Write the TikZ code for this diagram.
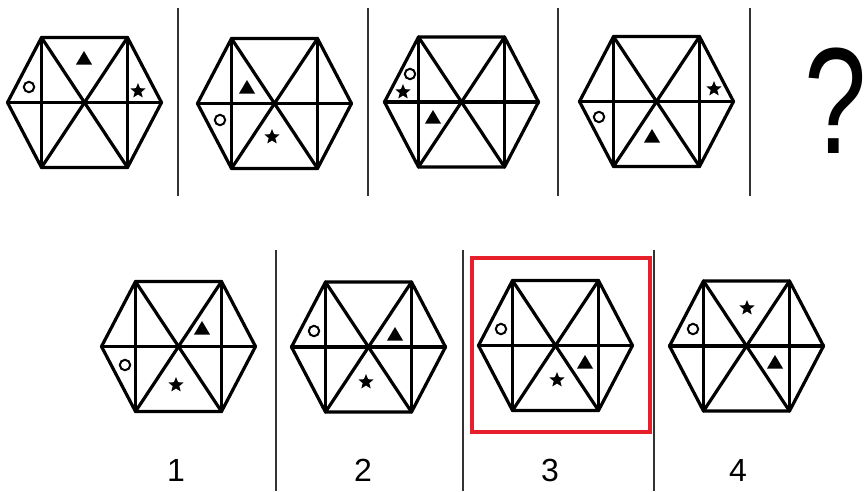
\documentclass[tikz,border=0pt]{standalone}
\usepackage{fontspec}
\setmainfont{Liberation Sans}
\usetikzlibrary{shapes.geometric}
\definecolor{boxred}{HTML}{E5202A}
\tikzset{
  hexline/.style={line width=3.2pt, line join=round, line cap=round},
  sep/.style={line width=1.8pt, black!80},
  starsym/.style={star, star points=5, star point ratio=2.3, fill=black, inner sep=0pt, minimum size=16pt},
  ringsym/.style={line width=2pt},
  lbl/.style={font=\fontsize{32}{32}\selectfont, inner sep=0pt},
  pics/hexfig/.style={code={
    \coordinate (-L) at (-77,0);
    \coordinate (-R) at (77,0);
    \coordinate (-TL) at (-43,-65);
    \coordinate (-TR) at (43,-65);
    \coordinate (-BL) at (-43,65);
    \coordinate (-BR) at (43,65);
    \draw[hexline] (-L) -- (-TL) -- (-TR) -- (-R) -- (-BR) -- (-BL) -- cycle;
    \draw[hexline] (-L) -- (-R);
    \draw[hexline] (-TL) -- (-BL);
    \draw[hexline] (-TR) -- (-BR);
    \draw[hexline] (-TL) -- (-BR);
    \draw[hexline] (-TR) -- (-BL);
  }}
}
\newcommand{\trisym}[2]{\fill[line join=round] (#1-8,#2+6.5) -- (#1,#2-7) -- (#1+8,#2+6.5) -- cycle;}
\newcommand{\ringat}[2]{\draw[ringsym] (#1,#2) circle (5.2);}
\newcommand{\starat}[2]{\node[starsym] at (#1,#2) {};}
\begin{document}
\begin{tikzpicture}[x=1pt,y=-1pt]
\useasboundingbox (0,0) rectangle (867,491);
% top row
\pic (h1) at (84.5,102.5) {hexfig};
\pic (h2) at (274.5,103.5) {hexfig};
\pic (h3) at (461.5,102) {hexfig};
\pic (h4) at (656.5,101.5) {hexfig};
\draw[sep] (178,8) -- (178,196);
\draw[sep] (368,8) -- (368,196);
\draw[sep] (558,8) -- (558,196);
\draw[sep] (750,8) -- (750,196);
\node[inner sep=0pt, xscale=0.8, yscale=1.08, font=\fontsize{140}{140}\selectfont] (q) at (836,101) {?};
% symbols top row
\ringat{29}{87} \trisym{84}{58} \starat{138}{91}
\trisym{247}{87} \ringat{220}{120} \starat{272}{137}
\ringat{410}{74} \starat{403}{92} \trisym{433}{117}
\starat{714}{89} \ringat{599}{117} \trisym{652}{136}
% bottom row
\pic (o1) at (178.5,346.5) {hexfig};
\pic (o2) at (368.5,347) {hexfig};
\pic (o3) at (555.5,345.5) {hexfig};
\pic (o4) at (746.5,346) {hexfig};
\draw[sep] (276,250) -- (276,491);
\draw[sep] (463,250) -- (463,491);
\draw[sep] (654,250) -- (654,491);
\draw[boxred, line width=3.6pt] (472,258) rectangle (650,432);
\trisym{202}{328} \ringat{125}{365} \starat{176}{385}
\ringat{314}{331} \trisym{395}{334} \starat{366}{382}
\ringat{501}{329} \trisym{585}{362} \starat{557}{380}
\starat{747}{308} \ringat{693}{329} \trisym{775}{362}
\node[lbl] (l1) at (176,470) {1};
\node[lbl] (l2) at (363,470) {2};
\node[lbl] (l3) at (550,470) {3};
\node[lbl] (l4) at (738,470) {4};
\end{tikzpicture}
\end{document}
